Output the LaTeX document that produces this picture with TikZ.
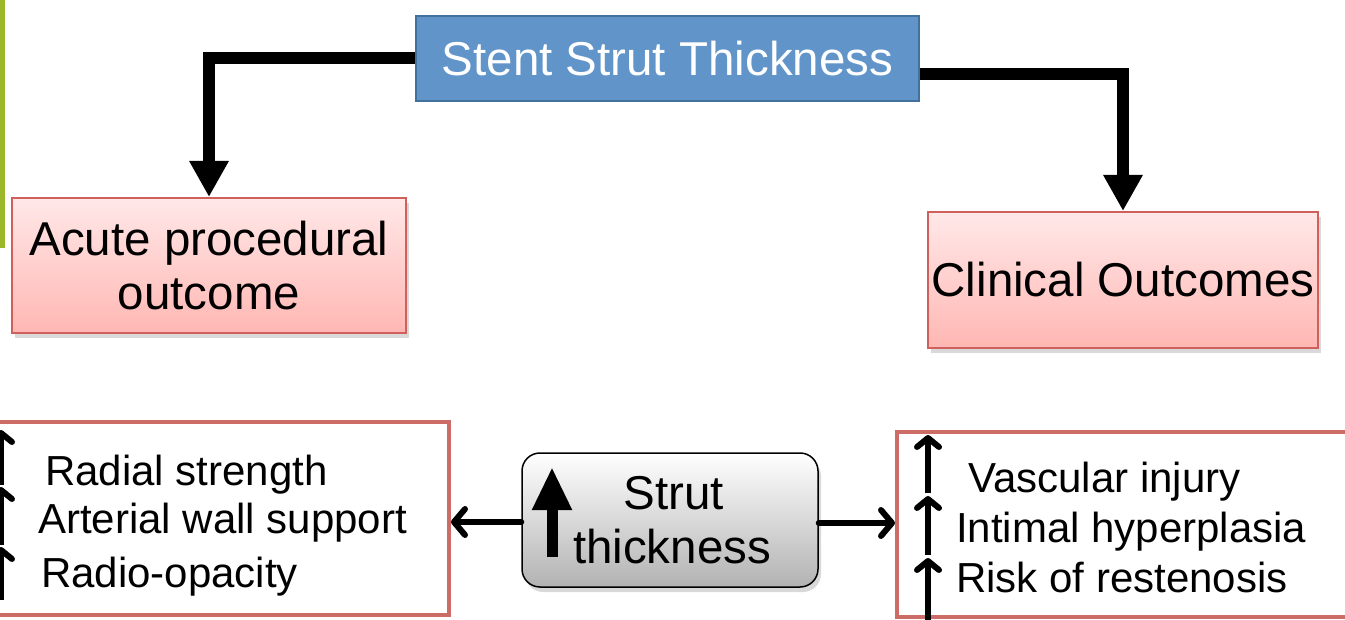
\documentclass[tikz,border=0pt]{standalone}
\usepackage{fontspec}
\setmainfont{Liberation Sans}
\usetikzlibrary{arrows.meta,shadows}

\definecolor{stentfill}{RGB}{97,149,201}
\definecolor{stentdraw}{RGB}{65,113,156}
\definecolor{pinktop}{RGB}{255,232,232}
\definecolor{pinkbot}{RGB}{255,183,179}
\definecolor{outdraw}{RGB}{208,96,92}
\definecolor{listdraw}{RGB}{205,107,103}
\definecolor{barcolor}{RGB}{155,184,43}

\begin{document}
\begin{tikzpicture}[
    x=1pt, y=-1pt,
    bigfont/.style={font=\fontsize{47.5pt}{54pt}\selectfont},
    listfont/.style={font=\fontsize{42pt}{48pt}\selectfont},
    topbox/.style={
        rectangle,
        fill=stentfill,
        draw=stentdraw,
        line width=2.5pt,
        text=white,
        bigfont,
        inner sep=0pt,
        minimum width=503pt,
        minimum height=85pt
    },
    outbox/.style={
        rectangle,
        top color=pinktop,
        bottom color=pinkbot,
        draw=outdraw,
        line width=2pt,
        bigfont,
        align=center,
        inner sep=0pt,
        drop shadow={shadow xshift=3pt, shadow yshift=-5pt, opacity=0.3}
    },
    listbox/.style={
        rectangle,
        fill=white,
        draw=listdraw,
        line width=4pt,
        inner sep=0pt
    },
    strutbox/.style={
        rectangle,
        rounded corners=18pt,
        top color=white,
        bottom color=black!30,
        draw=black,
        line width=1.5pt,
        bigfont,
        align=center,
        inner sep=0pt,
        minimum width=296pt,
        minimum height=134pt,
        drop shadow={shadow xshift=3pt, shadow yshift=-5pt, opacity=0.3}
    },
    bigarrow/.style={line width=12pt, -{Triangle[length=36pt,width=37pt]}},
    effect/.style={line width=6pt, line cap=round, -{Straight Barb[length=11pt,width=26pt,round]}},
    risearrow/.style={line width=6pt, -{Straight Barb[length=9pt,width=22pt,round]}},
    item/.style={listfont, anchor=base west, inner sep=0pt}
]
\useasboundingbox (0,0) rectangle (1345,620);

% Side bar
\fill[barcolor] (0,0) rectangle (5,248);

% Nodes
\node[topbox] (stent) at (667.5,58.5) {Stent Strut Thickness};
\node[outbox, minimum width=394pt, minimum height=135pt] (acute) at (209,265.5) {Acute procedural\\outcome};
\node[outbox, minimum width=390pt, minimum height=136pt] (clinical) at (1123,280) {Clinical Outcomes};

\node[listbox, minimum width=458pt, minimum height=193pt] (benefits) at (220,518.5) {};
\node[listbox, minimum width=460pt, minimum height=185pt] (risks) at (1127,524.5) {};
\node[strutbox] (strut) at (670,520) {\hspace*{8pt}Strut\\\hspace*{4pt}thickness};

% List texts
\node[item] (radial) at (45,485) {Radial strength};
\node[item] (wall) at (38,533) {Arterial wall support};
\node[item] (opacity) at (41,587) {Radio-opacity};
\node[item] (injury) at (968,492) {Vascular injury};
\node[item] (hyper) at (956,542) {Intimal hyperplasia};
\node[item] (resten) at (956,592) {Risk of restenosis};

% Up arrows
\draw[line width=11pt, -{Triangle[length=43pt,width=37pt]}] (552,557) -- (552,467);
\draw[risearrow] (1,485) -- (1,430);
\draw[risearrow] (1,545) -- (1,487);
\draw[risearrow] (1,600) -- (1,547);
\draw[risearrow] (928,493) -- (928,435);
\draw[risearrow] (928,555) -- (928,496);
\draw[risearrow] (928,620) -- (928,558);

% Edges
\coordinate (lstart) at ([yshift=-2pt]strut.west);
\coordinate (rstart) at ([yshift=-3pt]strut.east);
\draw[bigarrow] (stent.west) -| (acute.north);
\draw[bigarrow] ([yshift=-16pt]stent.east) -| (clinical.north);
\draw[effect] (lstart) -- (lstart -| benefits.east);
\draw[effect] (rstart) -- (rstart -| risks.west);

\end{tikzpicture}
\end{document}
